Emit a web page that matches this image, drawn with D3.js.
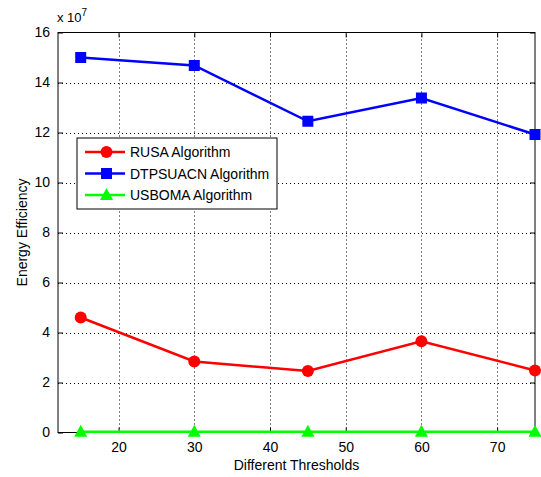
<!DOCTYPE html>
<html>
<head>
<meta charset="utf-8">
<script src="https://cdn.jsdelivr.net/npm/d3@7"></script>
<style>
  body { margin: 0; background: #fff; }
  text { font-family: "Liberation Sans", Arial, sans-serif; fill: #000; }
</style>
</head>
<body>
<div id="vis"></div>
<script>
'use strict';

var thresholds = [15, 30, 45, 60, 75];
var rusa = [4.6, 2.84, 2.46, 3.65, 2.48];
var dtpsuacn = [15.0, 14.68, 12.45, 13.38, 11.92];
var usboma = [0.03, 0.03, 0.03, 0.03, 0.03];
var xTicks = [20, 30, 40, 50, 60, 70];
var yTicks = [0, 2, 4, 6, 8, 10, 12, 14, 16];

var series = [
    { name: 'RUSA Algorithm', values: rusa, color: '#ff0000', marker: 'circle' },
    { name: 'DTPSUACN Algorithm', values: dtpsuacn, color: '#0000ff', marker: 'square' },
    { name: 'USBOMA Algorithm', values: usboma, color: '#00ff00', marker: 'triangle' }
];

var width = 541, height = 477;
var margin = { left: 58, top: 32.5, right: 6, bottom: 44.5 };
var fs = 14;

var svg = d3.select('#vis').append('svg')
    .attr('width', width)
    .attr('height', height);

var x = d3.scaleLinear().domain([12, 75]).range([margin.left, width - margin.right]);
var y = d3.scaleLinear().domain([0, 16]).range([height - margin.bottom, margin.top]);

var x0 = x.range()[0], x1 = x.range()[1];
var y0 = y.range()[0], y1 = y.range()[1];

// grid, dotted
var grid = svg.append('g').attr('class', 'grid');
grid.selectAll('line.gx')
    .data(xTicks)
    .enter().append('line')
    .attr('x1', function (d) { return Math.round(x(d)) + 0.5; })
    .attr('x2', function (d) { return Math.round(x(d)) + 0.5; })
    .attr('y1', y0).attr('y2', y1)
    .attr('stroke', '#000').attr('stroke-width', 1)
    .attr('stroke-dasharray', '1,3');
grid.selectAll('line.gy')
    .data(yTicks.slice(1, -1))
    .enter().append('line')
    .attr('y1', function (d) { return Math.round(y(d)) + 0.5; })
    .attr('y2', function (d) { return Math.round(y(d)) + 0.5; })
    .attr('x1', x0).attr('x2', x1)
    .attr('stroke', '#000').attr('stroke-width', 1)
    .attr('stroke-dasharray', '1,3');

// axes: ticks inward, on all four sides
var tickLen = 5;
svg.append('g')
    .attr('transform', 'translate(0,' + y0 + ')')
    .call(d3.axisBottom(x).tickValues(xTicks).tickSize(-tickLen).tickPadding(10))
    .call(function (g) { g.select('.domain').remove(); })
    .selectAll('text').attr('font-size', fs);
svg.append('g')
    .attr('transform', 'translate(0,' + y1 + ')')
    .call(d3.axisTop(x).tickValues(xTicks).tickSize(-tickLen).tickFormat(''))
    .call(function (g) { g.select('.domain').remove(); });
svg.append('g')
    .attr('transform', 'translate(' + x0 + ',0)')
    .call(d3.axisLeft(y).tickValues(yTicks).tickSize(-tickLen).tickPadding(8))
    .call(function (g) { g.select('.domain').remove(); })
    .selectAll('text').attr('font-size', fs);
svg.append('g')
    .attr('transform', 'translate(' + x1 + ',0)')
    .call(d3.axisRight(y).tickValues(yTicks).tickSize(-tickLen).tickFormat(''))
    .call(function (g) { g.select('.domain').remove(); });

svg.append('rect')
    .attr('x', x0).attr('y', y1)
    .attr('width', x1 - x0).attr('height', y0 - y1)
    .attr('fill', 'none').attr('stroke', '#000').attr('stroke-width', 1);

// exponent label
var expo = svg.append('text').attr('x', x0 - 1).attr('y', 22).attr('font-size', 13);
expo.append('tspan').text('x 10');
expo.append('tspan').attr('dy', -6).attr('font-size', 10).text('7');

// axis titles
svg.append('text')
    .attr('x', (x0 + x1) / 2).attr('y', 470)
    .attr('text-anchor', 'middle').attr('font-size', fs)
    .text('Different Thresholds');
svg.append('text')
    .attr('transform', 'translate(27,' + ((y0 + y1) / 2) + ') rotate(-90)')
    .attr('text-anchor', 'middle').attr('font-size', fs)
    .text('Energy Efficiency');

function drawMarker(g, type, color) {
    if (type === 'circle') {
        g.append('circle').attr('r', 6).attr('fill', color);
    } else if (type === 'square') {
        g.append('rect').attr('x', -5.5).attr('y', -5.5).attr('width', 11).attr('height', 11).attr('fill', color);
    } else {
        g.append('path').attr('d', 'M0,-7L6.5,5L-6.5,5Z').attr('fill', color);
    }
}

var line = d3.line()
    .x(function (d, i) { return x(thresholds[i]); })
    .y(function (d) { return y(d); });

var plot = svg.append('g');
series.forEach(function (s) {
    plot.append('path')
        .datum(s.values)
        .attr('d', line)
        .attr('fill', 'none')
        .attr('stroke', s.color)
        .attr('stroke-width', 2.5);
    s.values.forEach(function (v, i) {
        var g = plot.append('g')
            .attr('transform', 'translate(' + x(thresholds[i]) + ',' + y(v) + ')');
        drawMarker(g, s.marker, s.color);
    });
});

// legend
var legend = svg.append('g').attr('transform', 'translate(77,138)');
legend.append('rect')
    .attr('width', 200).attr('height', 71)
    .attr('fill', '#fff').attr('stroke', '#000').attr('stroke-width', 1);
series.forEach(function (s, i) {
    var row = legend.append('g').attr('transform', 'translate(0,' + (14 + i * 21.5) + ')');
    row.append('line')
        .attr('x1', 8).attr('x2', 48)
        .attr('stroke', s.color).attr('stroke-width', 2.5);
    var m = row.append('g').attr('transform', 'translate(29.5,0)');
    drawMarker(m, s.marker, s.color);
    row.append('text')
        .attr('x', 53).attr('y', 5)
        .attr('font-size', fs)
        .text(s.name);
});
</script>
</body>
</html>
